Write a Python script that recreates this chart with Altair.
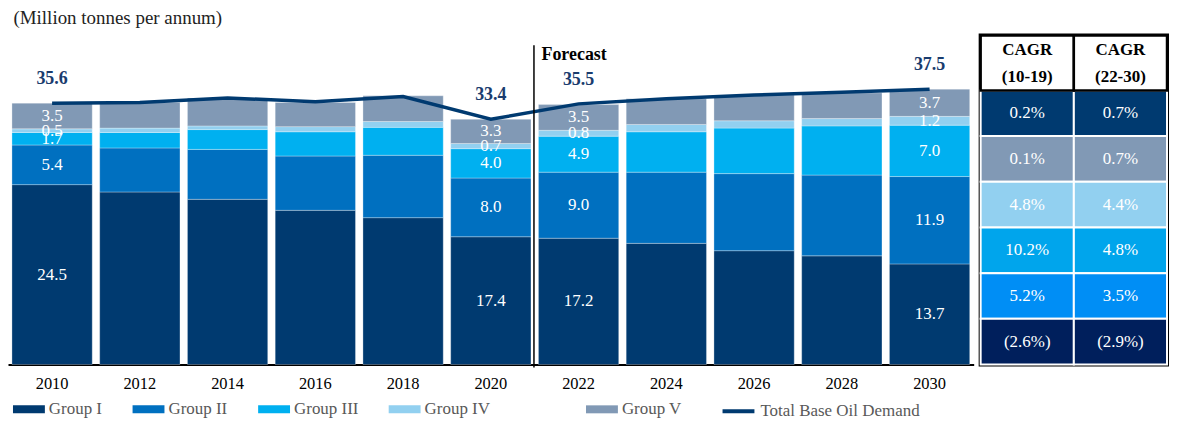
import altair as alt
import pandas as pd

FONT = "Liberation Serif"

# ---------------- data ----------------
years = ["2010", "2012", "2014", "2016", "2018", "2020", "2022", "2024", "2026", "2028", "2030"]
groups = ["Group I", "Group II", "Group III", "Group IV", "Group V"]
group_i = [24.5, 23.5, 22.5, 21.0, 20.0, 17.4, 17.2, 16.5, 15.5, 14.8, 13.7]
group_ii = [5.4, 6.0, 6.8, 7.4, 8.5, 8.0, 9.0, 9.7, 10.5, 11.0, 11.9]
group_iii = [1.7, 2.1, 2.7, 3.3, 3.8, 4.0, 4.9, 5.5, 6.2, 6.7, 7.0]
group_iv = [0.5, 0.6, 0.5, 0.7, 0.8, 0.7, 0.8, 1.0, 1.0, 1.0, 1.2]
group_v = [3.5, 3.5, 3.8, 3.3, 3.5, 3.3, 3.5, 3.5, 3.5, 3.5, 3.7]
total = [35.6, 35.7, 36.3, 35.8, 36.5, 33.4, 35.5, 36.2, 36.7, 37.1, 37.5]
total_name = "Total Base Oil Demand"
label_years = ["2010", "2020", "2022", "2030"]
y_title = "(Million tonnes per annum)"

forecast_year = "2022"
forecast_label = "Forecast"
forecast_top = 43.5
forecast_text_y = 42.1
y_max = 44.8

group_colors = ["#003a70", "#0070c0", "#00b0f0", "#92d0f0", "#8199b5"]
line_color = "#003a70"
total_label_color = "#1a3c6e"

cagr_headers = ["CAGR\n(10-19)", "CAGR\n(22-30)"]
cagr_10_19 = ["0.2%", "0.1%", "4.8%", "10.2%", "5.2%", "(2.6%)"]
cagr_22_30 = ["0.7%", "0.7%", "4.4%", "4.8%", "3.5%", "(2.9%)"]
cagr_colors = ["#003a70", "#8199b5", "#92d0f0", "#00a5ec", "#008ef5", "#001f5c"]

# ---------------- tables ----------------
series = [group_i, group_ii, group_iii, group_iv, group_v]
rows = []
for gi, (g, vals) in enumerate(zip(groups, series)):
    for yr, v in zip(years, vals):
        rows.append({"year": yr, "group": g, "value": v, "order": gi,
                     "show": yr in label_years, "label": f"{v:.1f}"})
df = pd.DataFrame(rows)

line_df = pd.DataFrame({"year": years, "total": total,
                        "series": [total_name] * len(years),
                        "show": [y in label_years for y in years]})

fc_df = pd.DataFrame({"year": [forecast_year], "label": [forecast_label]})

legend_domain = groups[:4] + ["\u00a0" * 4] + groups[4:]
legend_range = group_colors[:4] + ["#ffffff"] + group_colors[4:]

tab_rows = []
for i, (a, b, c) in enumerate(zip(cagr_10_19, cagr_22_30, cagr_colors)):
    tab_rows.append({"col": "c1", "row": i, "text": a, "color": c})
    tab_rows.append({"col": "c2", "row": i, "text": b, "color": c})
tab_df = pd.DataFrame(tab_rows)
hdr_df = pd.DataFrame({"col": ["c1", "c2"], "text": cagr_headers})

# ---------------- main chart ----------------
xscale = alt.Scale(paddingInner=0.085, paddingOuter=0.045)
xaxis = alt.Axis(title=None, labelAngle=0, ticks=False, domainColor="black",
                 domainWidth=2, labelFontSize=16.5, labelColor="black",
                 labelFont=FONT, labelFontWeight="normal", labelPadding=11)


def xenc(**kw):
    return alt.X("year:N", sort=years, scale=xscale, axis=xaxis, **kw)


yscale = alt.Scale(domain=[0, y_max], nice=False)
yaxis = alt.Axis(title=y_title, titleAngle=0, titleX=5, titleY=-18,
                 titleAlign="left", titleBaseline="middle", labels=False,
                 ticks=False, domain=False, grid=False, titleFontSize=19,
                 titleFontWeight="normal", titleColor="#222222", titleFont=FONT)

bars = alt.Chart(df).mark_bar(stroke="white", strokeWidth=0.6, strokeOpacity=0.5).encode(
    x=xenc(),
    y=alt.Y("value:Q", stack="zero", scale=yscale, axis=yaxis),
    fill=alt.Fill("group:N", scale=alt.Scale(domain=legend_domain, range=legend_range),
                  legend=alt.Legend(title=None, orient="none", legendX=5, legendY=359,
                                    direction="horizontal",
                                    symbolType="M-1,-0.25H1V0.25H-1Z", symbolSize=1024,
                                    symbolStrokeWidth=0, labelFontSize=17,
                                    labelColor="#595959", labelFont=FONT,
                                    columnPadding=30, labelOffset=4, padding=0)),
    order=alt.Order("order:Q", sort="ascending"),
)

seg_labels = alt.Chart(df).transform_stack(
    stack="value", groupby=["year"], as_=["y0", "y1"],
    sort=[alt.SortField("order", order="ascending")]
).transform_calculate(mid="(datum.y0 + datum.y1) / 2").transform_filter(
    "datum.show"
).mark_text(color="white", fontSize=17, font=FONT, baseline="middle").encode(
    x=xenc(), y=alt.Y("mid:Q", scale=yscale), text="label:N"
)

line = alt.Chart(line_df).mark_line(strokeWidth=3.5).encode(
    x=xenc(),
    y=alt.Y("total:Q", scale=yscale),
    stroke=alt.Stroke("series:N", scale=alt.Scale(range=[line_color]),
                      legend=alt.Legend(title=None, orient="none", legendX=715, legendY=359,
                                        direction="horizontal", symbolType="stroke",
                                        symbolSize=1024, symbolStrokeWidth=4,
                                        labelFontSize=17, labelColor="#595959",
                                        labelFont=FONT, labelOffset=4, padding=0)),
)

total_labels = alt.Chart(line_df).transform_filter("datum.show").mark_text(
    fontWeight="bold", fontSize=18, color=total_label_color, dy=-24, font=FONT,
    baseline="middle"
).encode(x=xenc(), y=alt.Y("total:Q", scale=yscale), text=alt.Text("total:Q", format=".1f"))

fc_rule = alt.Chart(fc_df).mark_rule(color="black", strokeWidth=1.5, xOffset=-4.5, y2Offset=3).encode(
    x=xenc(bandPosition=0), y=alt.datum(forecast_top), y2=alt.datum(0)
)

fc_text = alt.Chart(fc_df).mark_text(align="left", dx=3, fontWeight="bold", fontSize=18,
                                     baseline="middle", color="black", font=FONT).encode(
    x=xenc(bandPosition=0), y=alt.datum(forecast_text_y), text="label:N"
)

main = alt.layer(bars, seg_labels, line, total_labels, fc_rule, fc_text).properties(
    width=969, height=330
)

# ---------------- CAGR table ----------------
tx = alt.X("col:N", axis=None, scale=alt.Scale(paddingInner=0, paddingOuter=0))
tscale = alt.Scale(domain=[0, 7.2], nice=False, zero=False)

body_rect = alt.Chart(tab_df).transform_calculate(
    ytop="6 - datum.row", ybot="5 - datum.row"
).mark_rect(stroke="white", strokeWidth=2).encode(
    x=tx, y=alt.Y("ytop:Q", axis=None, scale=tscale), y2="ybot:Q",
    fill=alt.Fill("color:N", scale=None)
)

body_text = alt.Chart(tab_df).transform_calculate(ymid="5.5 - datum.row").mark_text(
    color="white", fontSize=17, font=FONT, baseline="middle"
).encode(x=tx, y=alt.Y("ymid:Q", axis=None, scale=tscale), text="text:N")

hdr_rect = alt.Chart(hdr_df).mark_rect(fill="white", stroke="black", strokeWidth=2.5).encode(
    x=tx, y=alt.datum(7.2), y2=alt.datum(6)
)

hdr_text = alt.Chart(hdr_df).mark_text(fontWeight="bold", fontSize=17, font=FONT,
                                       lineBreak="\n", lineHeight=27, baseline="middle",
                                       color="black").encode(
    x=tx, y=alt.datum(6.89), text="text:N"
)

table = alt.layer(body_rect, body_text, hdr_rect, hdr_text).properties(
    width=187, height=330, view=alt.ViewBackground(stroke="black", strokeWidth=4)
)

chart = alt.hconcat(main, table, spacing=7, bounds="flush").properties(padding=0).configure(
    font=FONT
).configure_view(strokeWidth=0)

chart.save("out.html", embed_options={"renderer": "svg", "actions": False})
